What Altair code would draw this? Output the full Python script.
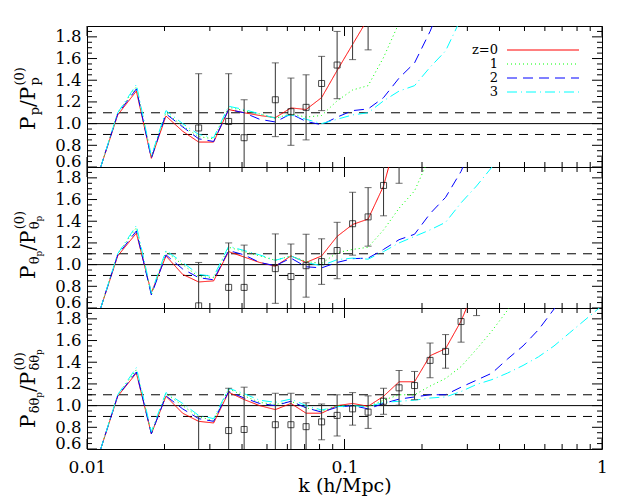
import altair as alt
import pandas as pd

SERIF = "DejaVu Serif"
W, H = 515, 141

# k grid (h/Mpc)
K = [0.01127, 0.01316, 0.01555, 0.01778, 0.02026, 0.02352, 0.02714, 0.03103,
     0.03549, 0.04076, 0.04681, 0.05388, 0.06194, 0.07093, 0.08149, 0.09361,
     0.1075, 0.1235, 0.1418, 0.1629, 0.1871, 0.2149, 0.2469, 0.2836, 0.3257,
     0.3741, 0.4297, 0.4935, 0.5668, 0.6511, 0.7478, 0.8590, 0.9867]

REDSHIFTS = ["z=0", "1", "2", "3"]
COLORS = ["#ff0000", "#00ff00", "#0000ff", "#00ffff"]
DASHES = [[1, 0], [1, 3], [10, 6], [10, 4, 1, 4]]

# ---- panel 1: P_p / P_p^(0)
TOP_Z0 = [0.59, 1.08, 1.30, 0.68, 1.07, 0.93, 0.83, 0.83, 1.13, 1.10, 1.075, 1.055, 1.145, 1.13, 1.24, 1.49, 1.73, 1.97]
TOP_Z1 = [0.59, 1.10, 1.34, 0.70, 1.10, 0.98, 0.88, 0.86, 1.15, 1.12, 1.09, 1.05, 1.09, 1.06, 1.075, 1.21, 1.31, 1.35, 1.61, 1.93]
TOP_Z2 = [0.59, 1.09, 1.32, 0.68, 1.09, 0.97, 0.86, 0.835, 1.13, 1.10, 1.04, 1.015, 1.09, 1.02, 0.99, 1.06, 1.12, 1.135, 1.24, 1.42, 1.56, 1.85, 2.2]
TOP_Z3 = [0.59, 1.10, 1.36, 0.70, 1.12, 1.00, 0.90, 0.87, 1.16, 1.13, 1.09, 1.05, 1.08, 1.04, 1.00, 1.04, 1.08, 1.10, 1.21, 1.30, 1.35, 1.52, 1.67, 1.97]
TOP_PT_IDX = [6, 8, 9, 11, 12, 13, 14, 15, 16, 17]
TOP_PT_VAL = [0.96, 1.02, 0.87, 1.22, 1.11, 1.15, 1.37, 1.54, 1.95, 2.10]
TOP_PT_ERR = [0.50, 0.44, 0.35, 0.34, 0.31, 0.30, 0.25, 0.31, 0.36, 0.42]

# ---- panel 2: P_theta / P_theta^(0)
MID_Z0 = [0.59, 1.08, 1.29, 0.74, 1.08, 0.91, 0.84, 0.85, 1.12, 1.07, 1.02, 0.985, 1.08, 1.02, 1.08, 1.26, 1.37, 1.42, 1.725, 2.25]
MID_Z1 = [0.59, 1.10, 1.34, 0.72, 1.12, 1.00, 0.89, 0.88, 1.16, 1.12, 1.08, 1.04, 1.08, 1.03, 1.01, 1.11, 1.14, 1.16, 1.32, 1.52, 1.68, 2.0]
MID_Z2 = [0.59, 1.09, 1.31, 0.72, 1.09, 0.96, 0.88, 0.86, 1.13, 1.09, 1.02, 0.99, 1.06, 0.98, 0.97, 1.02, 1.055, 1.06, 1.14, 1.23, 1.28, 1.47, 1.62, 1.86, 2.2]
MID_Z3 = [0.59, 1.10, 1.36, 0.74, 1.13, 1.02, 0.91, 0.89, 1.17, 1.13, 1.09, 1.04, 1.08, 1.02, 0.99, 1.046, 1.06, 1.05, 1.12, 1.20, 1.26, 1.32, 1.39, 1.57, 1.725, 1.9, 2.1]
MID_PT_IDX = [6, 8, 9, 11, 12, 13, 14, 15, 16, 17, 18, 19]
MID_PT_VAL = [0.62, 0.79, 0.79, 0.963, 0.89, 0.99, 1.028, 1.13, 1.377, 1.44, 1.73, 2.05]
MID_PT_ERR = [0.40, 0.41, 0.39, 0.32, 0.30, 0.29, 0.21, 0.26, 0.29, 0.27, 0.28, 0.30]

# ---- panel 3: P_delta-theta / P_delta-theta^(0)
BOT_Z0 = [0.59, 1.086, 1.30, 0.74, 1.086, 0.93, 0.855, 0.84, 1.123, 1.056, 1.0, 0.963, 1.02, 0.93, 0.93, 1.0, 1.02, 0.994, 1.086, 1.22, 1.22, 1.46, 1.525, 1.78, 2.12]
BOT_Z1 = [0.59, 1.10, 1.33, 0.74, 1.11, 1.0, 0.895, 0.864, 1.155, 1.09, 1.03, 1.01, 1.04, 0.98, 0.947, 1.0, 1.0, 0.99, 1.05, 1.10, 1.10, 1.18, 1.25, 1.36, 1.52, 1.69, 1.88, 2.1]
BOT_Z2 = [0.59, 1.09, 1.31, 0.74, 1.09, 0.97, 0.88, 0.855, 1.13, 1.07, 1.02, 1.0, 1.04, 0.98, 0.94, 0.985, 1.0, 0.97, 1.02, 1.06, 1.08, 1.10, 1.10, 1.17, 1.235, 1.30, 1.43, 1.55, 1.70, 1.89, 2.1]
BOT_Z3 = [0.59, 1.10, 1.35, 0.76, 1.12, 1.02, 0.91, 0.88, 1.16, 1.11, 1.05, 1.03, 1.06, 1.0, 0.96, 0.99, 1.0, 0.99, 1.03, 1.04, 1.05, 1.07, 1.08, 1.13, 1.195, 1.24, 1.30, 1.37, 1.45, 1.55, 1.67, 1.79, 1.91]
BOT_PT_IDX = [6, 8, 9, 11, 12, 13, 14, 15, 16, 17, 18, 19, 20, 21, 22, 23, 24]
BOT_PT_VAL = [0.48, 0.77, 0.78, 0.824, 0.824, 0.806, 0.85, 0.91, 0.97, 0.94, 1.04, 1.164, 1.185, 1.417, 1.50, 1.775, 2.05]
BOT_PT_ERR = [0.42, 0.39, 0.39, 0.29, 0.29, 0.22, 0.165, 0.19, 0.15, 0.15, 0.12, 0.16, 0.13, 0.16, 0.155, 0.19, 0.22]

# axes / reference levels
Y_MAJOR = [0.6, 0.8, 1.0, 1.2, 1.4, 1.6, 1.8]
Y_MINOR = [0.65, 0.7, 0.75, 0.85, 0.9, 0.95, 1.05, 1.1, 1.15, 1.25, 1.3, 1.35,
           1.45, 1.5, 1.55, 1.65, 1.7, 1.75, 1.85]
X_MAJOR = [0.01, 0.1, 1.0]
X_MINOR = [0.02, 0.03, 0.04, 0.05, 0.06, 0.07, 0.08, 0.09,
           0.2, 0.3, 0.4, 0.5, 0.6, 0.7, 0.8, 0.9]
SOLID_LEVEL = [1.0]
DASHED_LEVELS = [0.9, 1.1]

XS = alt.Scale(type="log", domain=[0.01, 1], nice=False)
YS = alt.Scale(domain=[0.6, 1.9], nice=False, zero=False)

GLYPH_W = {"P": 0.733, "p": 0.640, "/": 0.337, "(": 0.390, ")": 0.390,
           "0": 0.636, "θ": 0.602, "δ": 0.602}
M, S, SS = 20, 13, 9
SUB, SUP, SUBSUB = 4, -11, 7


def tw(text, size):
    return sum(GLYPH_W.get(c, 0.6) for c in text) * size


def title_groups(sym):
    if sym == "p":
        sub = [("p", S, SUB)]
    else:
        sub = [(sym, S, SUB), ("p", SS, SUBSUB)]
    return [[[("P", M, 0)]], [sub], [[("/", M, 0)]], [[("P", M, 0)]],
            [sub, [("(0)", S, SUP)]]]


def title_layers(groups, x0, y0):
    layers = []
    s = 0.0
    for group in groups:
        adv = 0.0
        for track in group:
            t = 0.0
            for text, size, d in track:
                layers.append(
                    alt.Chart(pd.DataFrame({"t": [text]}))
                    .mark_text(angle=270, align="left", baseline="alphabetic",
                               font=SERIF, fontSize=size, color="black")
                    .encode(text="t:N", x=alt.value(x0 + d), y=alt.value(y0 - s - t))
                )
                t += tw(text, size)
            adv = max(adv, t)
        s += adv
    return layers


def legend_layers():
    layers = []
    for i, (lab, col, dash) in enumerate(zip(REDSHIFTS, COLORS, DASHES)):
        yy = 24 + 14 * i
        df = pd.DataFrame({"t": [lab]})
        layers.append(
            alt.Chart(df).mark_rule(color=col, strokeWidth=1, strokeDash=dash)
            .encode(x=alt.value(420), x2=alt.value(492), y=alt.value(yy))
        )
        layers.append(
            alt.Chart(df).mark_text(align="right", baseline="middle", font=SERIF,
                                    fontSize=13, color="black")
            .encode(text="t:N", x=alt.value(411), y=alt.value(yy))
        )
    return layers


def panel(series, pidx, pval, perr, sym, y0, show_x, legend):
    if show_x:
        xax = alt.Axis(values=[0.01, 0.1, 1], format="~g", title="k (h/Mpc)",
                       labelFlush=False, labelOverlap=False, labelPadding=10,
                       titlePadding=1, labelFontSize=17)
    else:
        xax = None
    yax = alt.Axis(values=Y_MAJOR, format=".1f", title=None, labelFlush=True,
                   labelFlushOffset=2, labelOverlap=False, labelPadding=6)

    def X(f):
        return alt.X(f"{f}:Q", scale=XS, axis=xax)

    def Y(f):
        return alt.Y(f"{f}:Q", scale=YS, axis=yax)

    rows = []
    for z, vals in zip(REDSHIFTS, series):
        for i, v in enumerate(vals):
            rows.append({"k": K[i], "v": v, "z": z})
    ldf = pd.DataFrame(rows)

    pdf = pd.DataFrame({
        "k": [K[i] for i in pidx],
        "v": pval,
        "lo": [v - e for v, e in zip(pval, perr)],
        "hi": [v + e for v, e in zip(pval, perr)],
    })

    layers = []
    # reference levels
    layers.append(alt.Chart(pd.DataFrame({"v": SOLID_LEVEL})).mark_rule(color="black", strokeWidth=1)
                  .encode(y=Y("v"), x=alt.value(0), x2=alt.value(W)))
    layers.append(alt.Chart(pd.DataFrame({"v": DASHED_LEVELS})).mark_rule(color="black", strokeWidth=1, strokeDash=[9, 7])
                  .encode(y=Y("v"), x=alt.value(0), x2=alt.value(W)))
    # model curves
    layers.append(
        alt.Chart(ldf).mark_line(strokeWidth=1, clip=True).encode(
            x=X("k"), y=Y("v"),
            color=alt.Color("z:N", scale=alt.Scale(domain=REDSHIFTS, range=COLORS), legend=None),
            strokeDash=alt.StrokeDash("z:N", scale=alt.Scale(domain=REDSHIFTS, range=DASHES), legend=None),
        )
    )
    # measured points with error bars
    layers.append(alt.Chart(pdf).mark_rule(color="#333333", strokeWidth=1, clip=True)
                  .encode(x=X("k"), y=Y("lo"), y2="hi:Q"))
    for f in ["lo", "hi"]:
        layers.append(alt.Chart(pdf).mark_tick(orient="horizontal", size=7, thickness=1,
                                               color="#333333", clip=True)
                      .encode(x=X("k"), y=Y(f)))
    layers.append(alt.Chart(pdf).mark_point(shape="square", size=36, filled=False,
                                            color="black", strokeWidth=1, clip=True)
                  .encode(x=X("k"), y=Y("v")))

    # inward ticks on all four sides
    for vals, ln in [(X_MAJOR, 10), (X_MINOR, 5)]:
        d = pd.DataFrame({"k": vals})
        layers.append(alt.Chart(d).mark_rule(color="black", strokeWidth=1)
                      .encode(x=X("k"), y=alt.value(0), y2=alt.value(ln)))
        layers.append(alt.Chart(d).mark_rule(color="black", strokeWidth=1)
                      .encode(x=X("k"), y=alt.value(H), y2=alt.value(H - ln)))
    for vals, ln in [(Y_MAJOR, 10), (Y_MINOR, 5)]:
        d = pd.DataFrame({"v": vals})
        layers.append(alt.Chart(d).mark_rule(color="black", strokeWidth=1)
                      .encode(y=Y("v"), x=alt.value(0), x2=alt.value(ln)))
        layers.append(alt.Chart(d).mark_rule(color="black", strokeWidth=1)
                      .encode(y=Y("v"), x=alt.value(W - ln), x2=alt.value(W)))

    layers += title_layers(title_groups(sym), -52, y0)
    if legend:
        layers += legend_layers()
    return alt.layer(*layers).properties(width=W, height=H)


p1 = panel([TOP_Z0, TOP_Z1, TOP_Z2, TOP_Z3], TOP_PT_IDX, TOP_PT_VAL, TOP_PT_ERR, "p", 104, False, True)
p2 = panel([MID_Z0, MID_Z1, MID_Z2, MID_Z3], MID_PT_IDX, MID_PT_VAL, MID_PT_ERR, "θ", 112, False, False)
p3 = panel([BOT_Z0, BOT_Z1, BOT_Z2, BOT_Z3], BOT_PT_IDX, BOT_PT_VAL, BOT_PT_ERR, "δθ", 120, True, False)

chart = (
    alt.vconcat(p1, p2, p3, spacing=0, bounds="flush")
    .properties(padding={"left": 5, "top": 17, "right": 5, "bottom": 0}, background="white")
    .configure_view(stroke="black", strokeWidth=1)
    .configure_axis(grid=False, ticks=False, tickSize=0, domain=False,
                    labelFont=SERIF, labelFontSize=16.5, labelColor="black",
                    titleFont=SERIF, titleFontSize=19, titleFontWeight="normal",
                    titleColor="black")
)

chart.save("out.html", embed_options={"renderer": "svg", "actions": False})
